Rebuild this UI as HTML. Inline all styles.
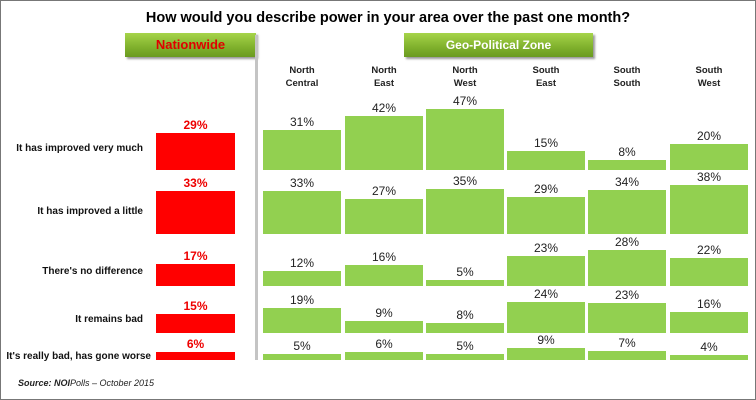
<!DOCTYPE html>
<html><head><style>
body{margin:0;}
#c{position:relative;width:754px;height:398px;border:1px solid #777;background:#fff;font-family:"Liberation Sans",sans-serif;overflow:hidden;}
.a{position:absolute;}
.t{position:absolute;font-size:14.5px;font-weight:bold;left:0;width:774px;text-align:center;top:9px;}
.box{position:absolute;top:32px;height:24px;background:linear-gradient(#a6d44a,#7fb02c 60%,#6a9a20);box-shadow:2px 2px 2px #999;font-weight:bold;font-size:12px;text-align:center;line-height:24px;}
.zl{position:absolute;top:63px;width:78px;text-align:center;font-size:9.5px;font-weight:bold;line-height:13px;color:#222;}
.cat{position:absolute;font-size:10px;font-weight:bold;color:#111;white-space:nowrap;}
.r{position:absolute;background:#ff0000;left:155px;width:79px;}
.rl{position:absolute;left:155px;width:79px;text-align:center;color:#e00;font-size:12px;font-weight:bold;}
.g{position:absolute;background:#92d050;width:78px;}
.gl{position:absolute;width:78px;text-align:center;color:#222;font-size:12px;}
</style></head><body><div id="c">
<div class="t">How would you describe power in your area over the past one month?</div>
<div class="box" style="left:124px;width:131px;color:#e00000;font-size:13px;">Nationwide</div>
<div class="box" style="left:403px;width:189px;color:#fff;">Geo-Political Zone</div>
<div class="a" style="left:254px;top:34px;width:3px;height:325px;background:#c4c4c4;"></div>
<div id="z"></div>
<div class="a" style="left:17px;top:377px;font-size:9px;font-style:italic;color:#222;"><b>Source: NOI</b>Polls – October 2015</div>
</div>
<script>
var zones=["North<br>Central","North<br>East","North<br>West","South<br>East","South<br>South","South<br>West"];
var xs=[262,344,425,506,587,669];
var cats=["It has improved very much","It has improved a little","There's no difference","It remains bad","It's really bad, has gone worse"];
var bottoms=[169,233,285,332,359];
var nat=[29,33,17,15,6];
var g=[[31,42,47,15,8,20],[33,27,35,29,34,38],[12,16,5,23,28,22],[19,9,8,24,23,16],[5,6,5,9,7,4]];
var k=1.29,h='';
var tys=[142,205,265,313,350];
zones.forEach(function(z,i){h+='<div class="zl" style="left:'+xs[i]+'px">'+z+'</div>';});
cats.forEach(function(t,r){
 var b=bottoms[r],hh=Math.round(nat[r]*k);
 h+='<div class="cat" style="top:'+tys[r]+'px;right:'+(r==4?604:612)+'px">'+t+'</div>';
 h+='<div class="r" style="top:'+(b-hh)+'px;height:'+hh+'px"></div>';
 h+='<div class="rl" style="top:'+(b-hh-15)+'px">'+nat[r]+'%</div>';
 g[r].forEach(function(v,i){var gh=Math.round(v*k);
  h+='<div class="g" style="left:'+xs[i]+'px;top:'+(b-gh)+'px;height:'+gh+'px"></div>';
  h+='<div class="gl" style="left:'+xs[i]+'px;top:'+(b-gh-15)+'px">'+v+'%</div>';});
});
document.getElementById('z').outerHTML=h;
</script>
</body></html>
